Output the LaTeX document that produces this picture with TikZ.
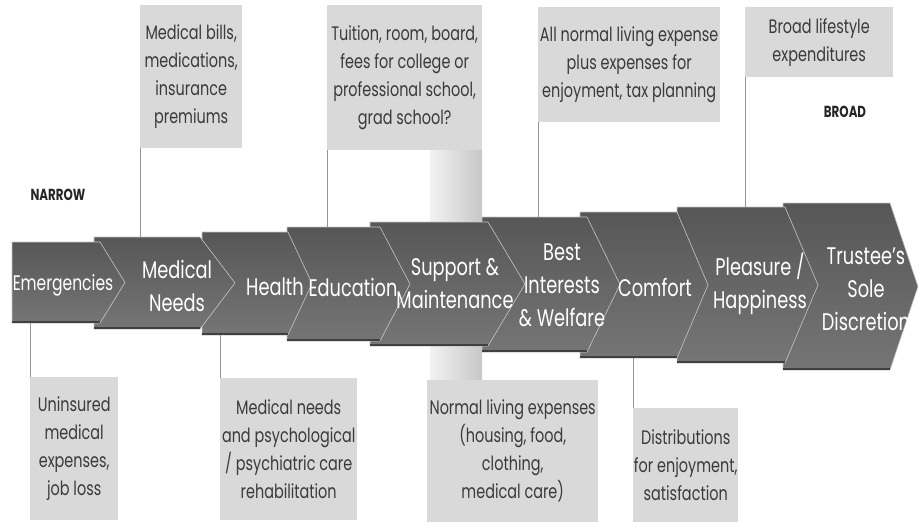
\documentclass[tikz,border=0pt]{standalone}
\usepackage{fontspec}
\setmainfont{Poppins}[FakeStretch=0.74]
\usetikzlibrary{calc}
\definecolor{paper}{RGB}{217,217,217}
\definecolor{ink}{RGB}{58,58,58}

\begin{document}
\begin{tikzpicture}[x=1pt,y=-1pt,
    stage/.style={text=white,align=center,font=\fontsize{24}{33}\selectfont},
    note/.style={fill=paper,text=ink,align=center,anchor=north west,inner sep=0pt,
      font=\fontsize{19.5}{28}\selectfont},
    lead/.style={draw=black!42,line width=0.7pt},
    tag/.style={text=black!85,font=\bfseries\fontsize{16}{18}\selectfont}]
  \useasboundingbox (0,0) rectangle (919,523);
  % grey column behind support & maintenance
  \shade[left color=black!5,right color=black!22] (430,150) rectangle (482,380);
  % chevrons, back to front so each tip lies on the next one
  \foreach \n/\l/\t/\b/\s/\p in {9/783/203/370/890/918,8/677/207/363/785/818,
      7/580/212/358/677/708,6/482/217/352/587/620,5/370/222/346/488/525,
      4/287/227/341/380/410,3/202/232/335/288/312,2/94/237/329/200/235,
      1/12/242/323/100/125}{
    \shade[top color=black!66,bottom color=black!54,draw=black!22,line width=0.6pt]
      (\l,\t) -- (\s,\t) -- (\p,{(\t+\b)/2}) -- (\s,\b) -- (\l,\b) -- cycle;
    \draw[black!75,line width=1.2pt] (\l,{\b-1}) -- (\s,{\b-1});
    \coordinate (c\n-top) at (\l,\t);
    \coordinate (c\n-bot) at (\l,\b);
  }
  \node[stage,font=\fontsize{21}{32}\selectfont] (emerg) at (63,285) {Emergencies};
  \node[stage] (medneeds) at (177,286) {Medical\\Needs};
  \node[stage] (health) at (275,287) {Health};
  \node[stage] (educ) at (353,287) {Education};
  \node[stage] (support) at (455,284) {Support \&\\Maintenance};
  \node[stage] (best) at (562,285) {Best\\Interests\\\& Welfare};
  \node[stage] (comfort) at (655,287) {Comfort};
  \node[stage] (pleasure) at (760,284) {Pleasure /\\Happiness};
  \node[stage] (sole) at (866,289) {Trustee’s\\Sole\\Discretion};

  % notes above
  \node[note,minimum width=102,minimum height=143] (bills) at (140,5)
    {Medical bills,\\medications,\\insurance\\premiums};
  \node[note,minimum width=155,minimum height=145] (tuition) at (327,5)
    {Tuition, room, board,\\fees for college or\\professional school,\\grad school?};
  \node[note,minimum width=182,minimum height=115] (allnormal) at (538,7)
    {All normal living expense\\plus expenses for\\enjoyment, tax planning};
  \node[note,minimum width=148,minimum height=70] (lifestyle) at (745,7)
    {Broad lifestyle\\expenditures};
  % notes below
  \node[note,minimum width=88,minimum height=143] (uninsured) at (30,377)
    {Uninsured\\medical\\expenses,\\job loss};
  \node[note,minimum width=137,minimum height=142] (psych) at (220,378)
    {Medical needs\\and psychological\\/ psychiatric care\\rehabilitation};
  \node[note,minimum width=171,minimum height=142] (living) at (427,380)
    {Normal living expenses\\(housing, food,\\clothing,\\medical care)};
  \node[note,minimum width=105,minimum height=114] (enjoy) at (633,408)
    {Distributions\\for enjoyment,\\satisfaction};

  \node[tag] (narrow) at (58,195) {NARROW};
  \node[tag] (broad) at (845,112) {BROAD};

  % leaders from notes to their chevrons
  \draw[lead] (bills.south west) -- (bills.south west |- c2-top);
  \draw[lead] (tuition.south west) -- (tuition.south west |- c4-top);
  \draw[lead] (allnormal.south west) -- (allnormal.south west |- c6-top);
  \draw[lead] (lifestyle.south west) -- (lifestyle.south west |- c8-top);
  \draw[lead] (uninsured.north west |- c1-bot) -- (uninsured.north west);
  \draw[lead] (psych.north west |- c3-bot) -- (psych.north west);
  \draw[lead] (enjoy.north west |- c7-bot) -- (enjoy.north west);
\end{tikzpicture}
\end{document}
